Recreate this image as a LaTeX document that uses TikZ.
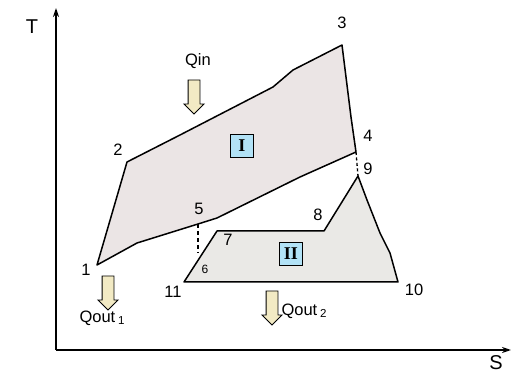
\documentclass[tikz,border=0pt]{standalone}
\usepackage{fontspec}
\setmainfont{Liberation Sans}
\newfontfamily\romfont{Liberation Serif}
\usetikzlibrary{shapes.arrows,arrows.meta}
\definecolor{cycA}{RGB}{235,229,229}
\definecolor{cycB}{RGB}{234,233,230}
\definecolor{tagblue}{RGB}{178,226,246}
\definecolor{heat}{RGB}{242,234,196}
\tikzset{
  num/.style={font=\fontsize{16.5}{18}\selectfont},
  tagbox/.style={draw,line width=1.1pt,fill=tagblue,minimum size=23pt,inner sep=0pt,font=\romfont\bfseries\fontsize{18}{18}\selectfont},
  heatarrow/.style={single arrow,draw,line width=.9pt,fill=heat,shape border rotate=270,
    minimum height=34pt,inner sep=5.5pt,single arrow head extend=4pt,single arrow head indent=0pt},
  cycle line/.style={line width=1.5pt,line join=round}
}
\begin{document}
\begin{tikzpicture}[x=1pt,y=-1pt]
\useasboundingbox (0,0) rectangle (512,374);
% axes
\coordinate (O) at (56,350);
\coordinate (Ttop) at (56,8);
\coordinate (Send) at (511,350);
\draw[line width=1.8pt,-{Stealth[length=9pt,width=6pt]}] (O)--(Ttop);
\draw[line width=1.8pt,-{Stealth[length=9pt,width=6pt]}] (O)--(Send);
\node[font=\fontsize{20}{22}\selectfont] (T) at (32,27){T};
\node[font=\fontsize{20}{22}\selectfont] (S) at (496,363){S};

% cycle I
\coordinate (p1) at (97,265);
\coordinate (p2) at (127,162);
\coordinate (p3) at (342,45);
\coordinate (p4) at (356,152);
\coordinate (p5) at (198,224);
\filldraw[cycle line,fill=cycA] (p1)--(p2)--(180,135)--(273,87)--(293,70)--(p3)--(351,117)--(p4)
  --(300,177)--(217,218)--(p5)--(137,243)--cycle;

% cycle II
\coordinate (p6) at (198,253);
\coordinate (p7) at (217,231);
\coordinate (p8) at (324,231);
\coordinate (p9) at (358,176);
\coordinate (p10) at (398,282);
\coordinate (p11) at (184,282);
\filldraw[cycle line,fill=cycB] (p11)--(p7)--(p8)--(p9)--(367,200)--(380,233)--(390,253)--(p10)--cycle;

\draw[line width=1.3pt,dash pattern=on 4pt off 3pt] (p5)--(p6);
\draw[line width=1.3pt,dash pattern=on 3pt off 2.5pt] (p4)--(p9);

\node[tagbox] (one) at (242,146){I};
\node[tagbox] (two) at (291,254){II};

\node[num] (n1) at (86,270){1};
\node[num] (n2) at (118,150){2};
\node[num] (n3) at (342,23){3};
\node[num] (n4) at (368,136){4};
\node[num] (n5) at (199,209){5};
\node[font=\fontsize{12}{14}\selectfont] (n6) at (205,269){6};
\node[num] (n7) at (228,240){7};
\node[num] (n8) at (318,215){8};
\node[num] (n9) at (368,169){9};
\node[num] (n10) at (414,290){10};
\node[num] (n11) at (173,292){11};

% heat flows
\node[num] (qin) at (198,61){Qin};
\node[heatarrow] (qinarrow) at (194,94){};
\node[heatarrow] (qo1arrow) at (108,290){};
\node[num,anchor=west] (qo1) at (76,318){Qout\,\textsubscript{1}};
\node[heatarrow] (qo2arrow) at (272,305){};
\node[num,anchor=west] (qo2) at (278,311){Qout\,\textsubscript{2}};
\end{tikzpicture}
\end{document}
